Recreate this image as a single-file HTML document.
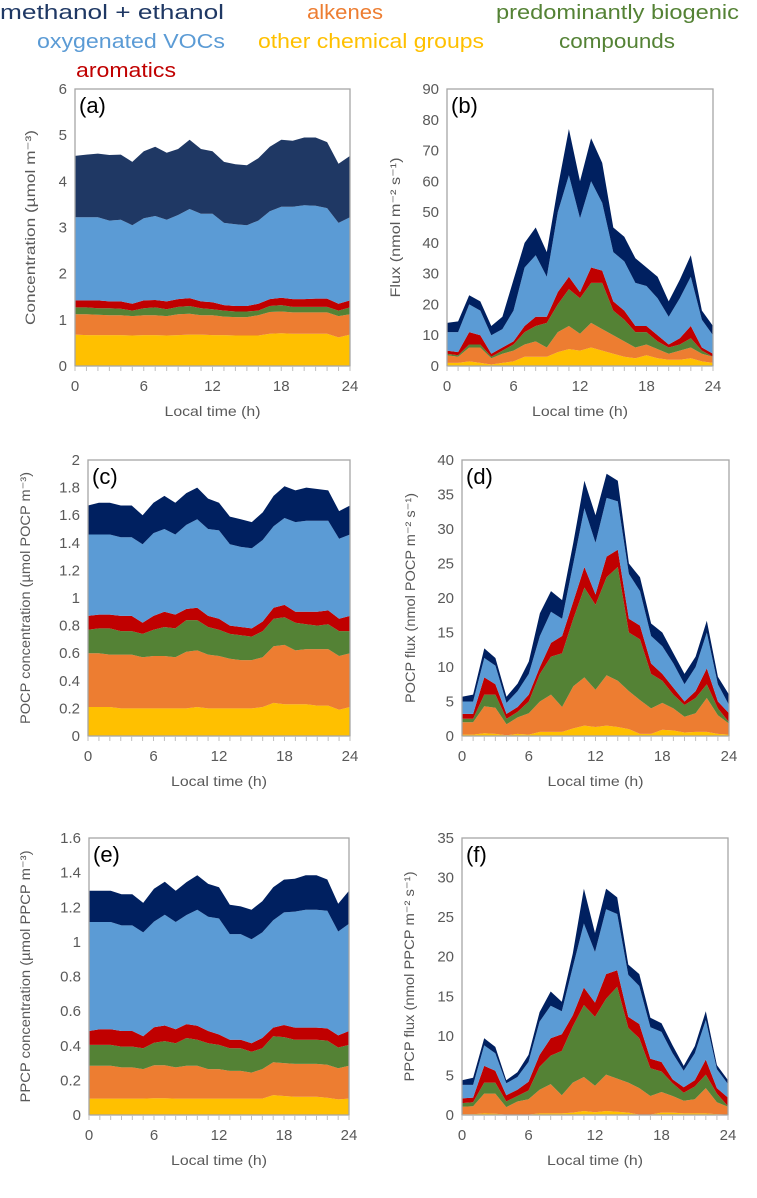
<!DOCTYPE html>
<html><head><meta charset="utf-8"><style>
html,body{margin:0;padding:0;background:#fff;}
svg{display:block;font-family:"Liberation Sans",sans-serif;}
</style></head><body>
<svg id="fig" width="757" height="1198" viewBox="0 0 757 1198" xmlns="http://www.w3.org/2000/svg">
<g font-size="20">
<text x="0" y="19" fill="#1F3864" textLength="224" lengthAdjust="spacingAndGlyphs">methanol + ethanol</text>
<text x="37" y="48" fill="#5B9BD5" textLength="188" lengthAdjust="spacingAndGlyphs">oxygenated VOCs</text>
<text x="76" y="77" fill="#C00000" textLength="100" lengthAdjust="spacingAndGlyphs">aromatics</text>
<text x="307" y="19" fill="#ED7D31" textLength="76" lengthAdjust="spacingAndGlyphs">alkenes</text>
<text x="258" y="48" fill="#FFC000" textLength="226" lengthAdjust="spacingAndGlyphs">other chemical groups</text>
<text x="496" y="19" fill="#548235" textLength="243" lengthAdjust="spacingAndGlyphs">predominantly biogenic</text>
<text x="559" y="48" fill="#548235" textLength="116" lengthAdjust="spacingAndGlyphs">compounds</text>
</g>
</svg>
<script>
const hours = [0,1,2,3,4,5,6,7,8,9,10,11,12,13,14,15,16,17,18,19,20,21,22,23,24];
const seriesNames = ["other chemical groups","alkenes","predominantly biogenic","aromatics","oxygenated VOCs","methanol + ethanol"];
// panel a
const aYellow=[.68,.67,.67,.67,.67,.66,.67,.67,.66,.67,.68,.68,.67,.67,.66,.66,.66,.70,.71,.70,.70,.70,.70,.62,.68];
const aOrange=[.44,.45,.44,.43,.43,.42,.43,.43,.42,.45,.45,.42,.43,.40,.40,.40,.44,.47,.47,.46,.46,.46,.46,.46,.44];
const aGreen=[.15,.15,.14,.15,.14,.12,.15,.17,.15,.16,.17,.15,.13,.13,.12,.12,.10,.13,.14,.12,.12,.12,.12,.12,.15];
const aRed=[.15,.15,.17,.15,.16,.15,.17,.16,.17,.17,.17,.15,.15,.12,.12,.12,.15,.15,.16,.17,.17,.18,.18,.15,.15];
const aBlue=[1.80,1.80,1.80,1.75,1.77,1.70,1.78,1.82,1.77,1.82,1.93,1.90,1.92,1.78,1.77,1.75,1.80,1.90,1.97,2.00,2.03,2.01,1.96,1.75,1.80];
const aNavy=[1.33,1.36,1.38,1.42,1.41,1.37,1.45,1.50,1.45,1.43,1.50,1.40,1.35,1.32,1.30,1.30,1.35,1.40,1.45,1.43,1.47,1.48,1.43,1.28,1.33];
// panel b
const bYellow=[1,1,1.5,1,0.5,1,1.5,3,3,3,4.5,5.5,5,6,5,4,3,2.5,3.5,2.5,2,2,2.5,1.5,1];
const bOrange=[2.5,2,4.5,5,2,3,3.5,4,5,3,6.5,7.5,5.5,8,7,6,5,3.5,3.5,3,2,3,3.5,2.5,2];
const bGreen=[0.5,0.5,1,1,0.5,1,2,4,5,8,9,12,11.5,13,15,8,7,5,4,2.5,2,2,3,1,0];
const bRed=[1,1,4,3,1,1,1,2,3,2,4,4,2,5,4,3,3,2,2,2,1,2,4,1,1];
const bBlue=[6,6.5,9,8,6,6,10,19,20,13,26,33,24,28,22,16,16,14,13,12,9,13,16,9,6];
const bNavy=[3,3.5,3,3,3,4,10,8,9,8,8,15,12,14,13,8,8,8,6,7,5,6,7,3,3];
// panel c
const cYellow=[.21,.21,.21,.20,.20,.20,.20,.20,.20,.20,.21,.20,.20,.20,.20,.20,.21,.24,.23,.23,.23,.22,.22,.19,.21];
const cOrange=[.39,.39,.38,.39,.39,.37,.38,.38,.37,.41,.41,.39,.38,.36,.35,.35,.36,.41,.43,.39,.40,.41,.41,.39,.39];
const cGreen=[.17,.18,.19,.17,.17,.17,.19,.21,.21,.23,.22,.20,.19,.18,.18,.17,.19,.20,.20,.20,.18,.17,.18,.18,.16];
const cRed=[.10,.10,.10,.11,.11,.08,.10,.11,.10,.08,.09,.08,.08,.06,.06,.06,.07,.08,.09,.08,.09,.10,.10,.09,.11];
const cBlue=[.59,.58,.58,.57,.57,.57,.60,.60,.58,.61,.64,.63,.64,.59,.58,.58,.59,.59,.63,.65,.66,.66,.65,.58,.59];
const cNavy=[.21,.23,.23,.23,.23,.21,.22,.24,.23,.23,.23,.22,.20,.20,.20,.19,.20,.22,.23,.23,.24,.23,.22,.20,.21];
// panel d
const dYellow=[.2,.2,.4,.3,.1,.3,.2,.6,.6,.6,1.1,1.5,1.3,1.5,1.3,1.0,.3,.3,.9,.8,.5,.6,.6,.3,.2];
const dOrange=[1.8,1.8,3.9,3.8,1.6,2.4,3.1,4.4,5.4,3.6,6.1,7,5.4,7.3,6.7,5.5,4.9,3.7,3.9,3.2,2.3,2.7,4.9,2.7,1.6];
const dGreen=[.5,.5,1.7,1.9,.8,.8,1.7,4,5.5,7.8,9.8,13,12.3,14.2,16.5,8.5,8.8,5,3.2,2,1.7,2.2,2,1,.2];
const dRed=[.7,.7,2.5,1.5,.7,.7,1,1,2,2.5,2.5,3,1.5,3,2.5,2,2,1.5,1,1,.5,1,2.3,1,1.3];
const dBlue=[1.8,1.8,2.8,2.7,1.6,2.3,3,4.5,4.5,2.5,5.5,8.5,7.5,8.5,7,6.5,5,4,4,3.5,2.5,3.5,5.2,2.5,1.2];
const dNavy=[.7,1,1.4,1.1,.9,1.1,1.8,3.3,3,2.7,3,4,4,3.5,3,1.5,2,1.8,2,1.5,1.5,1.5,1.7,1.1,1.5];
// panel e
const eYellow=[.095,.095,.095,.095,.095,.095,.097,.097,.095,.095,.095,.095,.095,.095,.095,.095,.095,.115,.11,.105,.105,.105,.10,.09,.095];
const eOrange=[.19,.19,.19,.18,.18,.17,.19,.19,.18,.19,.19,.17,.17,.16,.16,.15,.17,.19,.19,.19,.19,.19,.19,.18,.19];
const eGreen=[.12,.12,.12,.12,.12,.12,.13,.14,.14,.16,.15,.15,.14,.13,.13,.12,.12,.15,.15,.14,.14,.14,.14,.12,.12];
const eRed=[.08,.09,.09,.09,.09,.07,.09,.09,.08,.08,.08,.07,.06,.05,.05,.05,.06,.05,.07,.07,.07,.07,.07,.07,.08];
const eBlue=[.63,.62,.62,.61,.61,.60,.61,.64,.62,.63,.67,.66,.67,.61,.61,.60,.61,.62,.65,.67,.68,.68,.68,.60,.62];
const eNavy=[.18,.18,.18,.18,.18,.17,.19,.19,.18,.19,.20,.19,.18,.17,.16,.17,.18,.19,.19,.19,.20,.20,.18,.16,.19];
// panel f
const fYellow=[.1,.1,.2,.15,.05,.05,.05,.2,.2,.2,.3,.5,.35,.5,.4,.3,.05,.05,.3,.3,.2,.2,.2,.1,.05];
const fOrange=[.95,1.0,2.5,2.55,.95,1.65,1.95,3.0,3.7,2.3,3.8,4.3,3.35,4.6,4.2,3.8,3.35,2.35,2.6,2.1,1.6,1.8,3.2,1.5,1.0];
const fGreen=[.45,.5,1.4,1.4,.7,.7,1.1,2.9,3.6,5.6,7.1,9.1,8.7,9.6,11.6,6.9,6.3,3.5,2.6,1.6,1.0,1.6,1.7,1.1,.05];
const fRed=[.6,.6,2.1,1.5,.8,.8,1.1,1.5,2.2,2.1,1.4,2.2,1.8,3.1,2.1,1.4,1.8,1.2,1.2,.5,.7,.8,1.9,.7,1.1];
const fBlue=[1.7,1.6,2.6,2.2,1.5,1.6,2.5,4.2,4.1,2.9,6.1,8.1,6.4,8.2,7.1,5.3,4.8,4.0,3.8,3.3,2.1,3.4,5.0,2.4,1.7];
const fNavy=[.6,.9,.9,.8,.4,.6,.9,1.2,1.8,1.2,1.7,4.4,2.4,2.6,2.1,1.3,1.5,1.2,1.1,1.0,.6,.9,1.1,.5,.5];
// tick labels
const aTicks=["0","1","2","3","4","5","6"];
const bTicks=["0","10","20","30","40","50","60","70","80","90"];
const cTicks=["0","0.2","0.4","0.6","0.8","1","1.2","1.4","1.6","1.8","2"];
const dTicks=["0","5","10","15","20","25","30","35","40"];
const eTicks=["0","0.2","0.4","0.6","0.8","1","1.2","1.4","1.6"];
const fTicks=["0","5","10","15","20","25","30","35"];
const xTicks=["0","6","12","18","24"];

const NS="http://www.w3.org/2000/svg";
const svg=document.getElementById('fig');
function mk(tag,attrs,parent){const e=document.createElementNS(NS,tag);for(const k in attrs)e.setAttribute(k,attrs[k]);(parent||svg).appendChild(e);return e;}
const colors=["#FFC000","#ED7D31","#548235","#C00000","#5B9BD5","#002060"];
const keys=["yellow","orange","green","red","blue","navy"];

const panels=[
 {id:"a",x0:75,x1:350,yt:89,yb:366,max:6,ticks:aTicks,series:[aYellow,aOrange,aGreen,aRed,aBlue,aNavy],title:"Concentration (µmol m⁻³)",tx:35,tlen:195,navy:"#1F3864"},
 {id:"b",x0:447,x1:713,yt:89,yb:366,max:90,ticks:bTicks,series:[bYellow,bOrange,bGreen,bRed,bBlue,bNavy],title:"Flux (nmol m⁻² s⁻¹)",tx:400,tlen:140},
 {id:"c",x0:88,x1:350,yt:460,yb:736,max:2,ticks:cTicks,series:[cYellow,cOrange,cGreen,cRed,cBlue,cNavy],title:"POCP concentration (µmol POCP  m⁻³)",tx:30,tlen:252},
 {id:"d",x0:462,x1:729,yt:460,yb:736,max:40,ticks:dTicks,series:[dYellow,dOrange,dGreen,dRed,dBlue,dNavy],title:"POCP flux (nmol POCP m⁻² s⁻¹)",tx:415,tlen:210},
 {id:"e",x0:89,x1:349,yt:838,yb:1115,max:1.6,ticks:eTicks,series:[eYellow,eOrange,eGreen,eRed,eBlue,eNavy],title:"PPCP concentration (µmol PPCP  m⁻³)",tx:30,tlen:252},
 {id:"f",x0:462,x1:728,yt:838,yb:1115,max:35,ticks:fTicks,series:[fYellow,fOrange,fGreen,fRed,fBlue,fNavy],title:"PPCP flux (nmol PPCP m⁻² s⁻¹)",tx:414,tlen:210}
];

panels.forEach(p=>{
 const g=mk('g',{});
 
 
 const xs=h=>p.x0+(h/24)*(p.x1-p.x0);
 const ys=v=>p.yb-(v/p.max)*(p.yb-p.yt);
 const bg=mk('rect',{x:p.x0,y:p.yt,width:p.x1-p.x0,height:p.yb-p.yt,fill:"#fff",stroke:"none"},g);
 
 
 let base=hours.map(()=>0);
 p.series.forEach((vals,si)=>{
  const top=base.map((b,i)=>b+vals[i]);
  let pts=hours.map((h,i)=>xs(h).toFixed(1)+","+ys(top[i]).toFixed(1));
  for(let i=hours.length-1;i>=0;i--)pts.push(xs(hours[i]).toFixed(1)+","+ys(base[i]).toFixed(1));
  const fill=(si===5&&p.navy)?p.navy:colors[si];
  const poly=mk('polygon',{points:pts.join(" "),fill:fill,stroke:"none"},g);
  
  
  base=top;
 });
 const border=mk('rect',{x:p.x0,y:p.yt,width:p.x1-p.x0,height:p.yb-p.yt,fill:"none",stroke:"#a6a6a6","stroke-width":1.3},g);
 
 
 // x minor ticks
 hours.forEach(h=>{
  const t=mk('line',{x1:xs(h),x2:xs(h),y1:p.yb,y2:p.yb+5,stroke:"#bfbfbf","stroke-width":1},g);
  
  
 });
 xTicks.forEach((lab,i)=>{
  const t=mk('text',{x:xs(i*6),y:p.yb+25,"text-anchor":"middle","font-size":15,fill:"#595959"},g);
  t.textContent=lab;
  
  
 });
 const n=p.ticks.length-1;
 p.ticks.forEach((lab,i)=>{
  const y=p.yb-(i/n)*(p.yb-p.yt);
  const t=mk('text',{x:p.x0-8,y:y+5,"text-anchor":"end","font-size":15,fill:"#595959"},g);
  t.textContent=lab;
  
  
 });
 const xl=mk('text',{x:(p.x0+p.x1)/2,y:p.yb+50,"text-anchor":"middle","font-size":14,fill:"#595959",textLength:96,lengthAdjust:"spacingAndGlyphs"},g);
 xl.textContent="Local time (h)";
 
 
 const cy=(p.yt+p.yb)/2;
 const yl=mk('text',{x:p.tx,y:cy,"text-anchor":"middle","font-size":14,fill:"#595959",transform:"rotate(-90 "+p.tx+" "+cy+")",textLength:p.tlen,lengthAdjust:"spacingAndGlyphs"},g);
 yl.textContent=p.title;
 
 
 const pl=mk('text',{x:p.x0+4,y:p.yt+24,"font-size":22,fill:"#000"},g);
 pl.textContent="("+p.id+")";
 
 
});
</script>
</body></html>
